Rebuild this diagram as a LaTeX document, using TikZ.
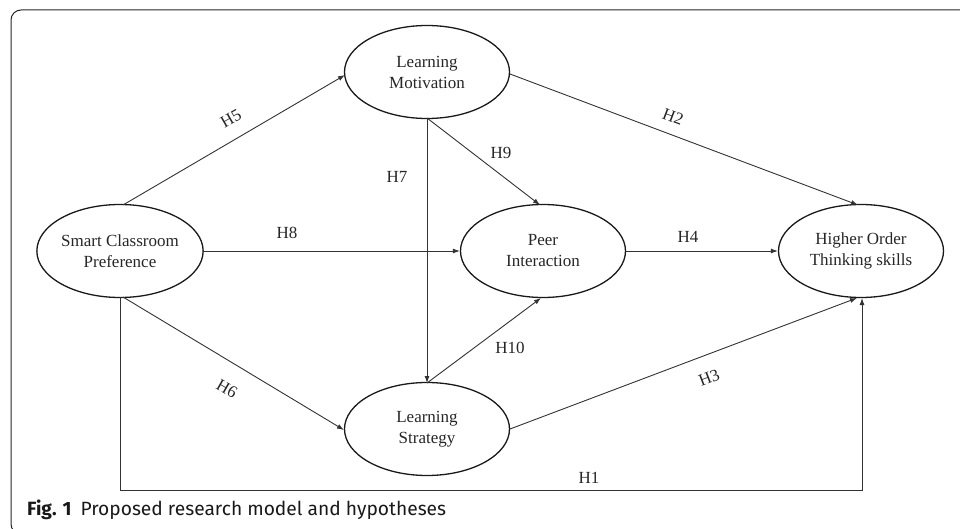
\documentclass[tikz,border=0pt]{standalone}
\usepackage{fontspec}
\setmainfont{Liberation Serif}
\newfontfamily\capfont{Fira Sans}
\usetikzlibrary{shapes.geometric,arrows.meta}
\begin{document}
\begin{tikzpicture}[x=1pt,y=-1pt,
  construct/.style={ellipse,draw=black!90,line width=1.3pt,minimum width=165pt,minimum height=93pt,inner sep=0pt,align=center,font=\fontsize{17}{21}\selectfont,text=black!85},
  path/.style={draw=black!80,line width=0.9pt,-{Latex[length=7pt,width=5pt]}},
  hlab/.style={font=\fontsize{17}{20}\selectfont,text=black!85,inner sep=0pt}]
\useasboundingbox (0,0) rectangle (960,529);
% frame
\draw[line width=1pt,black!85,rounded corners=10pt] (970,10) -- (11,10) -- (11,534) -- (40,534);
% constructs
\node[construct] (lm) at (427,72) {Learning\\Motivation};
\node[construct] (scp) at (120,251) {Smart Classroom\\Preference};
\node[construct] (pi) at (543,251) {Peer\\Interaction};
\node[construct] (hots) at (861,251) {Higher Order\\Thinking skills};
\node[construct] (ls) at (427,429) {Learning\\Strategy};
% anchors
\coordinate (scpTop) at (123,205);
\coordinate (scpBot) at (123,297);
\coordinate (scpH1) at (120,297);
\coordinate (lmBot) at (427,118);
\coordinate (lmRight) at (510,74);
\coordinate (lmLeft) at (345,75);
\coordinate (piTop) at (540,205);
\coordinate (piBot) at (541,298);
\coordinate (lsTop) at (427,383);
\coordinate (lsLeft) at (344,430);
\coordinate (lsRight) at (510,429);
\coordinate (hotsTop) at (858,205);
\coordinate (hotsBotA) at (857,298);
\coordinate (hotsBotB) at (862,298);
\coordinate (h1y) at (0,490);
% paths
\draw[path] (scpTop) -- (lmLeft);
\draw[path] (scp.east) -- (pi.west);
\draw[path] (scpBot) -- (lsLeft);
\draw[path] (scpH1) -- (scpH1 |- h1y) -| (hotsBotB);
\draw[path] (lmBot) -- (lsTop);
\draw[path] (lmBot) -- (piTop);
\draw[path] (lmRight) -- (hotsTop);
\draw[path] (pi.east) -- (hots.west);
\draw[path] (lsTop) -- (piBot);
\draw[path] (lsRight) -- (hotsBotA);
% labels
\node[hlab,rotate=30] (l5) at (231,119) {H5};
\node[hlab] (l8) at (287,233) {H8};
\node[hlab,rotate=-30] (l6) at (227,389) {H6};
\node[hlab] (l7) at (397,177) {H7};
\node[hlab] (l9) at (501,153) {H9};
\node[hlab,rotate=-21] (l2) at (673,117) {H2};
\node[hlab] (l4) at (688,237) {H4};
\node[hlab] (l10) at (510,348) {H10};
\node[hlab,rotate=21] (l3) at (709,378) {H3};
\node[hlab] (l1) at (589,478) {H1};
% caption
\node[anchor=west,inner sep=0pt,font=\capfont\fontsize{19.2}{23}\selectfont,text=black!90] (cap) at (27,510) {\textbf{Fig. 1}\hspace{9pt}Proposed research model and hypotheses};
\end{tikzpicture}
\end{document}
